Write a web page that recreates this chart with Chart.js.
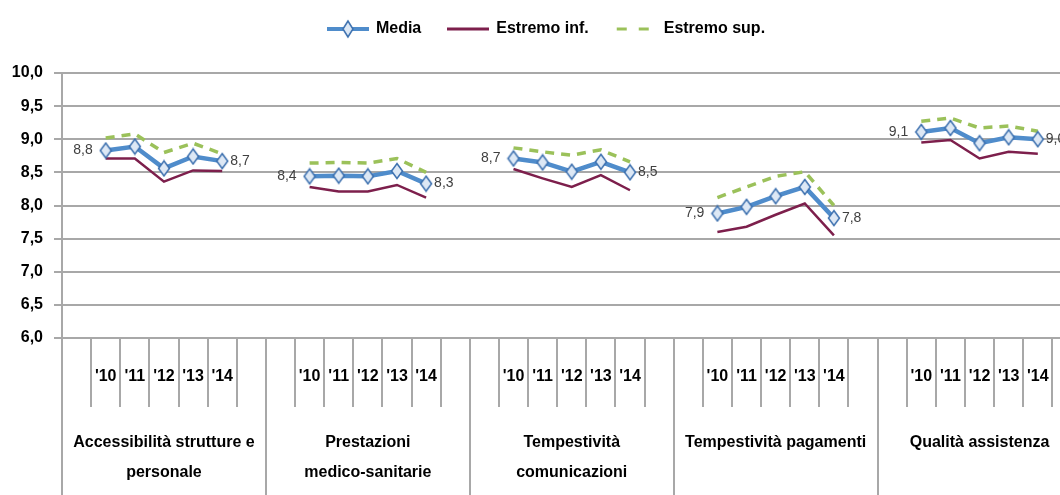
<!DOCTYPE html>
<html>
<head>
<meta charset="utf-8">
<script src="https://cdn.jsdelivr.net/npm/chart.js@4.4.1/dist/chart.umd.min.js"></script>
<style>
  html, body { margin: 0; padding: 0; background: #fff; overflow: hidden; }
  #wrap { width: 1093px; height: 495px; }
</style>
</head>
<body>
<div id="wrap"><canvas id="chart" width="1093" height="495"></canvas></div>
<script>
// categories
var groups = [
    ['Accessibilità strutture e', 'personale'],
    ['Prestazioni', 'medico-sanitarie'],
    ['Tempestività', 'comunicazioni'],
    'Tempestività pagamenti',
    'Qualità assistenza'
];
var years = ["'10", "'11", "'12", "'13", "'14"];

// values per group, one row per group ('10 .. '14)
var media = [
    [8.83, 8.89, 8.56, 8.74, 8.67],
    [8.44, 8.45, 8.44, 8.52, 8.33],
    [8.71, 8.65, 8.51, 8.66, 8.50],
    [7.88, 7.98, 8.14, 8.28, 7.81],
    [9.11, 9.17, 8.94, 9.03, 9.00]
];
var estremoInf = [
    [8.71, 8.71, 8.36, 8.53, 8.52],
    [8.28, 8.21, 8.21, 8.31, 8.12],
    [8.55, 8.41, 8.28, 8.46, 8.23],
    [7.60, 7.68, 7.86, 8.03, 7.55],
    [8.95, 8.99, 8.71, 8.81, 8.78]
];
var estremoSup = [
    [9.02, 9.08, 8.80, 8.94, 8.78],
    [8.64, 8.65, 8.64, 8.71, 8.50],
    [8.87, 8.81, 8.76, 8.84, 8.66],
    [8.12, 8.28, 8.44, 8.51, 8.00],
    [9.27, 9.32, 9.17, 9.20, 9.12]
];
var yTicks = [6.0, 6.5, 7.0, 7.5, 8.0, 8.5, 9.0, 9.5, 10.0];

var blue = '#4f8ccb';
var maroon = '#7d1f4c';
var green = '#9bc15a';
var gridGrey = '#a8a8a8';
var FONT = "'Liberation Sans', Arial, sans-serif";
var slots = years.length + 2; // empty slot before and after each group

// one x slot list: blank, years, blank for every group
var xLabels = [];
groups.forEach(function() {
    xLabels.push('');
    years.forEach(function(y) { xLabels.push(y); });
    xLabels.push('');
});

function flatten(rows) {
    var out = [];
    rows.forEach(function(vals) {
        out.push(null);
        vals.forEach(function(v) { out.push(v); });
        out.push(null);
    });
    return out;
}

function fmt(v) {
    return v.toFixed(1).replace('.', ',');
}

// diamond marker
function diamond(g, cx, cy, w, h) {
    g.beginPath();
    g.moveTo(cx, cy - h / 2);
    g.lineTo(cx + w / 2, cy);
    g.lineTo(cx, cy + h / 2);
    g.lineTo(cx - w / 2, cy);
    g.closePath();
    g.fillStyle = '#dde8f5';
    g.fill();
    g.lineWidth = 1.5;
    g.strokeStyle = '#3b6fae';
    g.stroke();
}

var marker = document.createElement('canvas');
marker.width = 14; marker.height = 18;
diamond(marker.getContext('2d'), 7, 9, 11, 15);

function makeIcon(kind) {
    var c = document.createElement('canvas');
    c.width = 42; c.height = 20;
    var g = c.getContext('2d');
    if (kind === 'media') {
        g.strokeStyle = blue; g.lineWidth = 4;
        g.beginPath(); g.moveTo(0, 10); g.lineTo(42, 10); g.stroke();
        diamond(g, 21, 10, 10, 16);
    } else if (kind === 'inf') {
        g.strokeStyle = maroon; g.lineWidth = 3;
        g.beginPath(); g.moveTo(0, 10); g.lineTo(42, 10); g.stroke();
    } else {
        g.strokeStyle = green; g.lineWidth = 3;
        g.setLineDash([10, 12]);
        g.beginPath(); g.moveTo(2, 10); g.lineTo(42, 10); g.stroke();
    }
    return c;
}
var icons = [makeIcon('media'), makeIcon('inf'), makeIcon('sup')];

var extras = {
    id: 'extras',
    afterInit: function(chart) {
        var lg = chart.legend;
        if (lg) {
            var fit = lg.fit;
            lg.fit = function() {
                fit.call(lg);
                lg.height = 79;
            };
        }
    },
    afterDraw: function(chart) {
        var ctx = chart.ctx;
        var xs = chart.scales.x;
        var area = chart.chartArea;
        var step = xs.getPixelForValue(1) - xs.getPixelForValue(0);
        ctx.save();
        // long separators between the groups
        ctx.strokeStyle = gridGrey;
        ctx.lineWidth = 2;
        for (var g = 0; g <= groups.length; g++) {
            var px = Math.round(xs.getPixelForValue(g * slots) - step / 2);
            ctx.beginPath();
            ctx.moveTo(px, area.bottom);
            ctx.lineTo(px, chart.height);
            ctx.stroke();
        }
        // value labels on first and last year of each group
        var meta = chart.getDatasetMeta(0);
        ctx.font = '14px ' + FONT;
        ctx.fillStyle = '#404040';
        ctx.textBaseline = 'middle';
        for (var k = 0; k < groups.length; k++) {
            var first = k * slots + 1;
            var last = k * slots + years.length;
            var p1 = meta.data[first], p2 = meta.data[last];
            ctx.textAlign = 'right';
            ctx.fillText(fmt(media[k][0]), p1.x - 13, p1.y);
            ctx.textAlign = 'left';
            ctx.fillText(fmt(media[k][years.length - 1]), p2.x + 8, p2.y);
        }
        ctx.restore();
    }
};

var ctx = document.getElementById('chart').getContext('2d');
var chart = new Chart(ctx, {
    type: 'line',
    data: {
        labels: xLabels,
        datasets: [{
            label: 'Media',
            data: flatten(media),
            borderColor: blue,
            backgroundColor: blue,
            borderWidth: 4.5,
            pointStyle: marker,
            pointRadius: 7,
            spanGaps: false,
            order: 0
        }, {
            label: 'Estremo inf.',
            data: flatten(estremoInf),
            borderColor: maroon,
            backgroundColor: maroon,
            borderWidth: 2.5,
            pointRadius: 0,
            spanGaps: false,
            order: 1
        }, {
            label: 'Estremo sup.',
            data: flatten(estremoSup),
            borderColor: green,
            backgroundColor: green,
            borderWidth: 3.5,
            borderDash: [9, 7],
            pointRadius: 0,
            spanGaps: false,
            order: 2
        }]
    },
    options: {
        responsive: false,
        animation: false,
        layout: { padding: { top: -6, left: 0, right: 0, bottom: 0 } },
        plugins: {
            tooltip: { enabled: false },
            legend: {
                position: 'top',
                labels: {
                    usePointStyle: true,
                    pointStyleWidth: 40,
                    padding: 27,
                    color: '#000',
                    font: { family: FONT, size: 16, weight: 'bold' },
                    generateLabels: function(chart) {
                        var items = Chart.defaults.plugins.legend.labels.generateLabels(chart);
                        items.forEach(function(it, i) { it.pointStyle = icons[i]; });
                        return items;
                    }
                }
            }
        },
        scales: {
            y: {
                min: 6,
                max: 10,
                afterBuildTicks: function(scale) {
                    scale.ticks = yTicks.map(function(v) { return { value: v }; });
                },
                afterFit: function(scale) { scale.width = 62; },
                grid: { color: gridGrey, lineWidth: 2, tickLength: 8 },
                border: { display: true, color: gridGrey, width: 2 },
                ticks: {
                    padding: 11,
                    color: '#000',
                    font: { family: FONT, size: 16, weight: 'bold' },
                    callback: function(v) { return fmt(v); }
                }
            },
            x: {
                offset: true,
                weight: 0,
                afterFit: function(scale) { scale.height = 69; },
                border: { display: false },
                grid: {
                    offset: true,
                    drawOnChartArea: false,
                    color: gridGrey,
                    lineWidth: 2,
                    tickLength: 69
                },
                ticks: {
                    autoSkip: false,
                    maxRotation: 0,
                    padding: -40,
                    color: '#000',
                    font: { family: FONT, size: 16, weight: 'bold' }
                }
            },
            x2: {
                type: 'category',
                labels: groups,
                offset: true,
                position: 'bottom',
                weight: 1,
                afterFit: function(scale) { scale.height = 88; },
                border: { display: false },
                grid: { display: false, drawTicks: false },
                ticks: {
                    autoSkip: false,
                    maxRotation: 0,
                    padding: 21,
                    color: '#000',
                    font: { family: FONT, size: 16, weight: 'bold', lineHeight: 1.85 }
                }
            }
        }
    },
    plugins: [extras]
});
</script>
</body>
</html>
